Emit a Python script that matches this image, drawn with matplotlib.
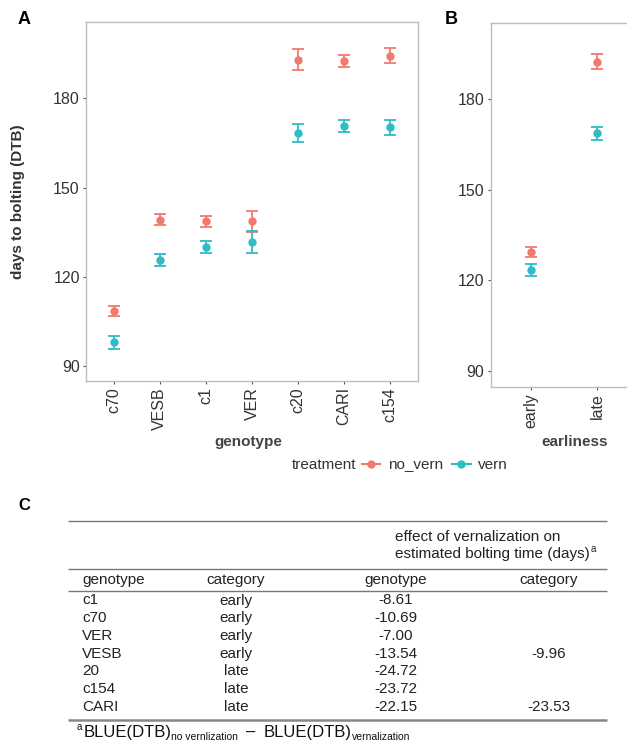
import matplotlib
matplotlib.use("Agg")
import matplotlib.pyplot as plt
from matplotlib.lines import Line2D
import numpy as np

plt.rcParams['font.family'] = ['Liberation Sans', 'DejaVu Sans']

# --- datos panel A (genotipos) ---
genotipos = ['c70', 'VESB', 'c1', 'VER', 'c20', 'CARI', 'c154']
no_vern = [108.5, 139.2, 138.6, 138.6, 193.0, 192.6, 194.3]
no_vern_err = [1.7, 1.9, 1.8, 3.6, 3.5, 2.0, 2.5]
vern = [98.0, 125.7, 130.0, 131.7, 168.4, 170.6, 170.3]
vern_err = [2.2, 1.9, 2.0, 3.7, 3.0, 2.0, 2.5]

# --- datos panel B (precocidad) ---
precocidad = ['early', 'late']
no_vern_b = [129.3, 192.5]
no_vern_b_err = [1.7, 2.5]
vern_b = [123.4, 168.7]
vern_b_err = [1.9, 2.2]

# --- datos tabla C ---
tab_genotipo = ['c1', 'c70', 'VER', 'VESB', '20', 'c154', 'CARI']
tab_categoria = ['early', 'early', 'early', 'early', 'late', 'late', 'late']
tab_efecto_gen = ['-8.61', '-10.69', '-7.00', '-13.54', '-24.72', '-23.72', '-22.15']
tab_efecto_cat = ['', '', '', '-9.96', '', '', '-23.53']

ROJO = '#F07A70'
TURQ = '#2FBCC4'
GRIS_TXT = '#333333'
GRIS_EJE = '#BDBDBD'

W, H = 627, 747
fig = plt.figure(figsize=(W / 100, H / 100), dpi=100)


def px_ax(x0, y0, x1, y1):
    # caja en pixeles (arriba-izquierda) -> coordenadas de figura
    return [x0 / W, 1 - y1 / H, (x1 - x0) / W, (y1 - y0) / H]


def estilo(ax, ylim):
    ax.set_ylim(*ylim)
    ax.set_yticks([90, 120, 150, 180])
    for s in ax.spines.values():
        s.set_color(GRIS_EJE)
        s.set_linewidth(1.0)
    ax.tick_params(axis='both', length=2.5, width=0.8, color='#555555',
                   labelsize=11.5, labelcolor=GRIS_TXT, pad=2)
    ax.tick_params(axis='x', labelrotation=90)


def puntos(ax, x, y, err, color):
    ax.errorbar(x, y, yerr=err, fmt='o', color=color, ms=5,
                elinewidth=1.3, capsize=4, capthick=1.3, zorder=3)


# panel A
axA = fig.add_axes(px_ax(86, 22, 418, 381))
xa = np.arange(len(genotipos))
puntos(axA, xa, no_vern, no_vern_err, ROJO)
puntos(axA, xa, vern, vern_err, TURQ)
axA.set_xlim(-0.6, len(genotipos) - 0.4)
axA.set_xticks(xa)
axA.set_xticklabels(genotipos)
estilo(axA, (85.0, 205.6))
axA.set_ylabel('days to bolting (DTB)', fontsize=11, fontweight='bold', color=GRIS_TXT)
axA.yaxis.set_label_coords(-0.184, 0.5)
axA.set_xlabel('genotype', fontsize=11, fontweight='bold', color='#444444')
axA.xaxis.set_label_coords(0.49, -0.17)
axA.xaxis.label.set_va('center')

# panel B
axB = fig.add_axes(px_ax(490.7, 23.3, 636.7, 387))
xb = np.arange(len(precocidad))
puntos(axB, xb, no_vern_b, no_vern_b_err, ROJO)
puntos(axB, xb, vern_b, vern_b_err, TURQ)
axB.set_xlim(-0.6, len(precocidad) - 0.4)
axB.set_xticks(xb)
axB.set_xticklabels(precocidad)
estilo(axB, (84.6, 205.2))
fig.text(575 / W, 1 - 442 / H, 'earliness', fontsize=11, fontweight='bold',
         color='#444444', ha='center', va='center')

fig.text(24 / W, 1 - 20 / H, 'A', fontsize=13, fontweight='bold', ha='center', va='center')
fig.text(451 / W, 1 - 19 / H, 'B', fontsize=13, fontweight='bold', ha='center', va='center')

# leyenda
fig.text(292 / W, 1 - 465 / H, 'treatment', fontsize=11, color=GRIS_TXT, va='center')
manejadores = [Line2D([], [], color=ROJO, marker='o', ms=5, lw=1.5),
               Line2D([], [], color=TURQ, marker='o', ms=5, lw=1.5)]
fig.legend(manejadores, ['no_vern', 'vern'], loc='center left',
           bbox_to_anchor=(362 / W, 1 - 465 / H), ncol=2, frameon=False,
           fontsize=11, handlelength=1.2, handletextpad=0.5, columnspacing=0.6,
           borderaxespad=0, borderpad=0, labelcolor=GRIS_TXT)

# tabla C
axT = fig.add_axes([0, 0, 1, 1], zorder=-1)
axT.set_xlim(0, W)
axT.set_ylim(H, 0)
axT.axis('off')
fig.text(24 / W, 1 - 506 / H, 'C', fontsize=12, fontweight='bold', ha='center', va='center')

for yl, lw, c in [(521, 1.0, '#777777'), (569, 1.0, '#777777'), (591, 1.0, '#777777'), (719.5, 1.8, '#888888')]:
    axT.plot([68, 607], [yl, yl], color=c, lw=lw, solid_capstyle='butt')

tk = dict(fontsize=11, color='#222222', va='center')
axT.text(395, 537, 'effect of vernalization on', ha='left', **tk)
t = axT.text(395, 554, 'estimated bolting time (days)', ha='left', **tk)
fig.canvas.draw()
rend = fig.canvas.get_renderer()
bb = t.get_window_extent(rend)
axT.text(bb.x1 + 1, 549, 'a', fontsize=7, color='#222222', ha='left', va='center')

axT.text(82, 580, 'genotype', ha='left', **tk)
axT.text(236, 580, 'category', ha='center', **tk)
axT.text(396, 580, 'genotype', ha='center', **tk)
axT.text(549, 580, 'category', ha='center', **tk)

for i in range(len(tab_genotipo)):
    y = 600.5 + i * 17.7
    axT.text(82, y, tab_genotipo[i], ha='left', **tk)
    axT.text(236, y, tab_categoria[i], ha='center', **tk)
    axT.text(396, y, tab_efecto_gen[i], ha='center', **tk)
    axT.text(549, y, tab_efecto_cat[i], ha='center', **tk)

# nota al pie, por trozos
trozos = [('a', 7, -5, 1), ('BLUE(DTB)', 12, 0, 0), ('no vernlization', 7.5, 5, 8),
          ('\u2013', 12, 0, 8), ('BLUE(DTB)', 12, 0, 0), ('vernalization', 7.5, 5, 0)]
x = 77
for txt, fs, dy, sep in trozos:
    tt = axT.text(x, 732 + dy, txt, fontsize=fs, color='#111111', ha='left', va='center')
    x = tt.get_window_extent(rend).x1 + sep

fig.savefig('out.png', dpi=100)
